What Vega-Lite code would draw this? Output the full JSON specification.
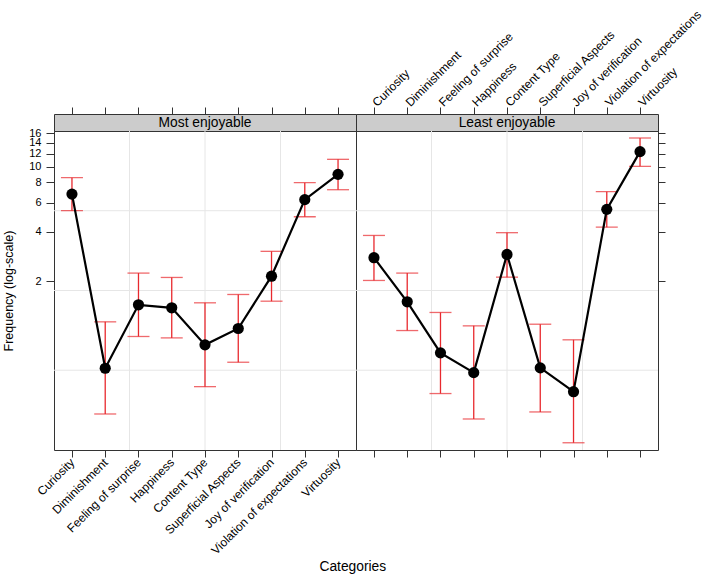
{
  "$schema": "https://vega.github.io/schema/vega-lite/v6.json",
  "padding": {"left": 2, "top": 7, "right": 3, "bottom": 2},
  "config": {
    "font": "Liberation Sans",
    "view": {"stroke": "#333333", "strokeWidth": 1},
    "axis": {"tickColor": "#333333", "labelColor": "#000000", "titleColor": "#000000", "titleFontWeight": "normal", "domain": false, "grid": false, "tickWidth": 1}
  },
  "title": {"text": "Categories", "orient": "bottom", "anchor": "middle", "fontSize": 13.8, "fontWeight": "normal", "color": "#000000", "offset": 3},
  "datasets": {
    "freq": [
      {"panel": "Most enjoyable", "cat": "Curiosity", "freq": 6.79, "lo": 5.38, "hi": 8.55},
      {"panel": "Most enjoyable", "cat": "Diminishment", "freq": 0.589, "lo": 0.31, "hi": 1.13},
      {"panel": "Most enjoyable", "cat": "Feeling of surprise", "freq": 1.435, "lo": 0.92, "hi": 2.24},
      {"panel": "Most enjoyable", "cat": "Happiness", "freq": 1.376, "lo": 0.902, "hi": 2.107},
      {"panel": "Most enjoyable", "cat": "Content Type", "freq": 0.818, "lo": 0.455, "hi": 1.476},
      {"panel": "Most enjoyable", "cat": "Superficial Aspects", "freq": 1.029, "lo": 0.641, "hi": 1.659},
      {"panel": "Most enjoyable", "cat": "Joy of verification", "freq": 2.145, "lo": 1.51, "hi": 3.04},
      {"panel": "Most enjoyable", "cat": "Violation of expectations", "freq": 6.28, "lo": 4.94, "hi": 7.97},
      {"panel": "Most enjoyable", "cat": "Virtuosity", "freq": 8.96, "lo": 7.22, "hi": 11.06},
      {"panel": "Least enjoyable", "cat": "Curiosity", "freq": 2.78, "lo": 2.02, "hi": 3.8},
      {"panel": "Least enjoyable", "cat": "Diminishment", "freq": 1.497, "lo": 1.0, "hi": 2.24},
      {"panel": "Least enjoyable", "cat": "Feeling of surprise", "freq": 0.731, "lo": 0.413, "hi": 1.289},
      {"panel": "Least enjoyable", "cat": "Happiness", "freq": 0.554, "lo": 0.289, "hi": 1.068},
      {"panel": "Least enjoyable", "cat": "Content Type", "freq": 2.91, "lo": 2.116, "hi": 3.95},
      {"panel": "Least enjoyable", "cat": "Superficial Aspects", "freq": 0.592, "lo": 0.319, "hi": 1.093},
      {"panel": "Least enjoyable", "cat": "Joy of verification", "freq": 0.424, "lo": 0.207, "hi": 0.878},
      {"panel": "Least enjoyable", "cat": "Violation of expectations", "freq": 5.48, "lo": 4.27, "hi": 7.02},
      {"panel": "Least enjoyable", "cat": "Virtuosity", "freq": 12.32, "lo": 10.02, "hi": 14.92}
    ],
    "hgrid": [{"g": 0.573}, {"g": 1.755}, {"g": 5.375}],
    "vgrid": [{"g": 0.25}, {"g": 0.5}, {"g": 0.75}],
    "strips": [{"panel": "Most enjoyable"}, {"panel": "Least enjoyable"}]
  },
  "columns": 2,
  "spacing": 0,
  "bounds": "flush",
  "concat": [
    {
      "width": 302, "height": 17,
      "view": {"fill": "#CCCCCC", "stroke": "#333333"},
      "data": {"name": "strips"},
      "transform": [{"filter": "datum.panel === 'Most enjoyable'"}],
      "mark": {"type": "text", "fontSize": 13.8, "color": "#000000", "baseline": "middle"},
      "encoding": {
        "text": {"field": "panel"},
        "x": {"datum": "Content Type", "type": "nominal",
          "scale": {"type": "point", "padding": 0.54, "domain": ["Curiosity", "Diminishment", "Feeling of surprise", "Happiness", "Content Type", "Superficial Aspects", "Joy of verification", "Violation of expectations", "Virtuosity"]},
          "axis": {"orient": "top", "title": null, "labels": false, "tickSize": 7}}
      }
    },
    {
      "width": 302, "height": 17,
      "view": {"fill": "#CCCCCC", "stroke": "#333333"},
      "data": {"name": "strips"},
      "transform": [{"filter": "datum.panel === 'Least enjoyable'"}],
      "mark": {"type": "text", "fontSize": 13.8, "color": "#000000", "baseline": "middle"},
      "encoding": {
        "text": {"field": "panel"},
        "x": {"datum": "Content Type", "type": "nominal",
          "scale": {"type": "point", "padding": 0.54, "domain": ["Curiosity", "Diminishment", "Feeling of surprise", "Happiness", "Content Type", "Superficial Aspects", "Joy of verification", "Violation of expectations", "Virtuosity"]},
          "axis": {"orient": "top", "title": null, "labelAngle": -45, "labelAlign": "left", "labelBaseline": "middle", "labelFontSize": 12, "tickSize": 7, "labelPadding": 3}}
      }
    },
    {
      "width": 302, "height": 319,
      "layer": [
        {
          "data": {"name": "vgrid"},
          "mark": {"type": "rule", "color": "#E6E6E6", "strokeWidth": 1},
          "encoding": {"x": {"field": "g", "type": "quantitative", "scale": {"domain": [0, 1], "nice": false}, "axis": null}}
        },
        {
          "data": {"name": "hgrid"},
          "mark": {"type": "rule", "color": "#E6E6E6", "strokeWidth": 1},
          "encoding": {"y": {"field": "g", "type": "quantitative", "scale": {"type": "log", "domain": [0.187, 16.46], "nice": false},
            "axis": {"orient": "left", "values": [2, 4, 6, 8, 10, 12, 14, 16], "format": "d", "tickSize": 8, "labelPadding": 5, "labelFontSize": 11, "labelOverlap": false, "labelFlush": false, "title": "Frequency (log-scale)", "titleFontSize": 12.5, "titlePadding": 13}}}
        },
        {
          "data": {"name": "freq"},
          "transform": [{"filter": "datum.panel === 'Most enjoyable'"}],
          "encoding": {
            "x": {"field": "cat", "type": "nominal", "sort": null,
              "scale": {"type": "point", "padding": 0.54, "domain": ["Curiosity", "Diminishment", "Feeling of surprise", "Happiness", "Content Type", "Superficial Aspects", "Joy of verification", "Violation of expectations", "Virtuosity"]},
              "axis": {"orient": "bottom", "title": null, "labelAngle": -45, "labelAlign": "right", "labelBaseline": "middle", "labelFontSize": 12, "tickSize": 7, "labelPadding": 3}}
          },
          "layer": [
            {"mark": {"type": "rule", "color": "#E8292E", "strokeWidth": 1.3},
             "encoding": {"y": {"field": "lo", "type": "quantitative"}, "y2": {"field": "hi"}}},
            {"mark": {"type": "tick", "orient": "horizontal", "color": "#E8292E", "size": 22, "thickness": 1.3},
             "encoding": {"y": {"field": "lo", "type": "quantitative"}}},
            {"mark": {"type": "tick", "orient": "horizontal", "color": "#E8292E", "size": 22, "thickness": 1.3},
             "encoding": {"y": {"field": "hi", "type": "quantitative"}}},
            {"mark": {"type": "line", "color": "#000000", "strokeWidth": 2.2},
             "encoding": {"y": {"field": "freq", "type": "quantitative"}}},
            {"mark": {"type": "point", "filled": true, "color": "#000000", "opacity": 1, "size": 125},
             "encoding": {"y": {"field": "freq", "type": "quantitative"}}}
          ]
        }
      ],
      "resolve": {"scale": {"x": "independent"}}
    },
    {
      "width": 302, "height": 319,
      "layer": [
        {
          "data": {"name": "vgrid"},
          "mark": {"type": "rule", "color": "#E6E6E6", "strokeWidth": 1},
          "encoding": {"x": {"field": "g", "type": "quantitative", "scale": {"domain": [0, 1], "nice": false}, "axis": null}}
        },
        {
          "data": {"name": "hgrid"},
          "mark": {"type": "rule", "color": "#E6E6E6", "strokeWidth": 1},
          "encoding": {"y": {"field": "g", "type": "quantitative", "scale": {"type": "log", "domain": [0.187, 16.46], "nice": false},
            "axis": {"orient": "right", "values": [2, 4, 6, 8, 10, 12, 14, 16], "labels": false, "tickSize": 7, "title": null}}}
        },
        {
          "data": {"name": "freq"},
          "transform": [{"filter": "datum.panel === 'Least enjoyable'"}],
          "encoding": {
            "x": {"field": "cat", "type": "nominal", "sort": null,
              "scale": {"type": "point", "padding": 0.54, "domain": ["Curiosity", "Diminishment", "Feeling of surprise", "Happiness", "Content Type", "Superficial Aspects", "Joy of verification", "Violation of expectations", "Virtuosity"]},
              "axis": {"orient": "bottom", "title": null, "labels": false, "tickSize": 7}}
          },
          "layer": [
            {"mark": {"type": "rule", "color": "#E8292E", "strokeWidth": 1.3},
             "encoding": {"y": {"field": "lo", "type": "quantitative"}, "y2": {"field": "hi"}}},
            {"mark": {"type": "tick", "orient": "horizontal", "color": "#E8292E", "size": 22, "thickness": 1.3},
             "encoding": {"y": {"field": "lo", "type": "quantitative"}}},
            {"mark": {"type": "tick", "orient": "horizontal", "color": "#E8292E", "size": 22, "thickness": 1.3},
             "encoding": {"y": {"field": "hi", "type": "quantitative"}}},
            {"mark": {"type": "line", "color": "#000000", "strokeWidth": 2.2},
             "encoding": {"y": {"field": "freq", "type": "quantitative"}}},
            {"mark": {"type": "point", "filled": true, "color": "#000000", "opacity": 1, "size": 125},
             "encoding": {"y": {"field": "freq", "type": "quantitative"}}}
          ]
        }
      ],
      "resolve": {"scale": {"x": "independent"}}
    }
  ]
}
